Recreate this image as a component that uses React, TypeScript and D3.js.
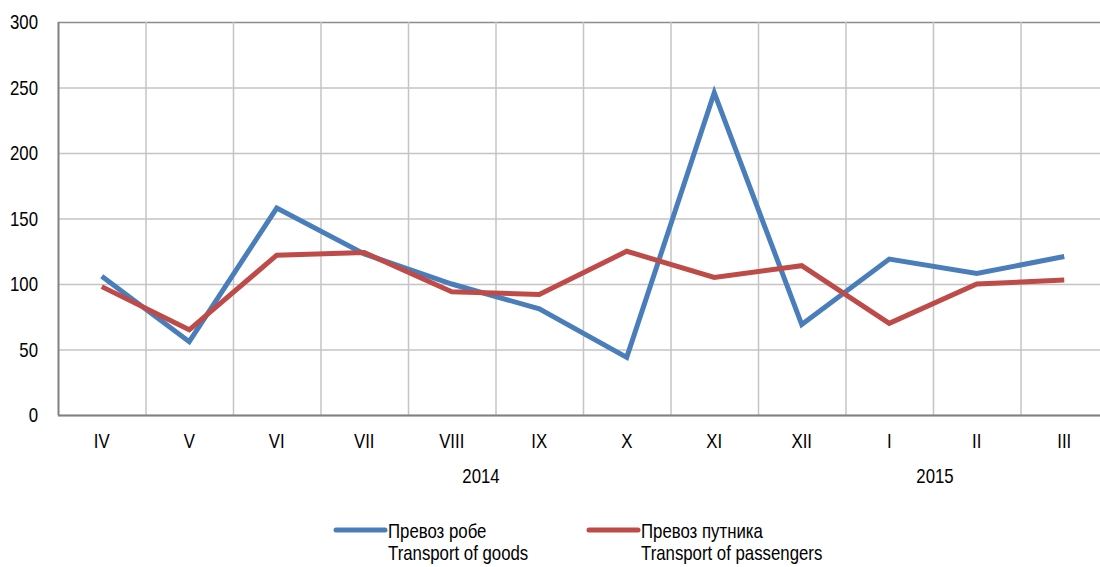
import React, { useEffect, useRef } from 'react'
import * as d3 from 'd3'

const months = ['IV', 'V', 'VI', 'VII', 'VIII', 'IX', 'X', 'XI', 'XII', 'I', 'II', 'III']
const goods = [106, 56, 158, 123, 100, 81, 44, 246, 69, 119, 108, 121]
const passengers = [98, 65, 122, 124, 94, 92, 125, 105, 114, 70, 100, 103]
const yTicks = [0, 50, 100, 150, 200, 250, 300]
const years = [{ label: '2014', at: 481 }, { label: '2015', at: 935 }]
const legendItems = [
  { sr: 'Превоз робе', en: 'Transport of goods', color: '#4a7ebb' },
  { sr: 'Превоз путника', en: 'Transport of passengers', color: '#be4b48' },
]

const font = '"Liberation Sans", Arial, sans-serif'
const squeeze = 0.84

export default function App() {
  const ref = useRef<SVGSVGElement | null>(null)

  useEffect(() => {
    const svg = d3.select(ref.current)
    svg.selectAll('*').remove()

    // narrow text (no Arial Narrow here, so squeeze Liberation Sans)
    const label = (parent: any, tx: number, ty: number, txt: string, anchor: string) =>
      parent.append('text')
        .attr('transform', `translate(${tx},${ty}) scale(${squeeze},1)`)
        .attr('text-anchor', anchor)
        .style('font-family', font)
        .style('font-size', '20px')
        .text(txt)

    const margin = { top: 22, left: 58 }
    const width = 1050
    const height = 393

    const x = d3.scaleBand<string>().domain(months).range([0, width])
    const y = d3.scaleLinear().domain([0, 300]).range([height, 0])

    const g = svg.append('g').attr('transform', `translate(${margin.left},${margin.top})`)

    // horizontal grid
    g.selectAll('.hgrid')
      .data(yTicks)
      .enter()
      .append('line')
      .attr('x1', 0)
      .attr('x2', width)
      .attr('y1', d => y(d) + 0.5)
      .attr('y2', d => y(d) + 0.5)
      .style('stroke', d => (d === 300 ? '#8c8c8c' : '#c4c4c4'))
      .style('stroke-width', 1.5)

    // vertical grid at band edges
    g.selectAll('.vgrid')
      .data(months.slice(1))
      .enter()
      .append('line')
      .attr('x1', d => (x(d) as number) + 0.5)
      .attr('x2', d => (x(d) as number) + 0.5)
      .attr('y1', 0)
      .attr('y2', height)
      .style('stroke', '#c4c4c4')
      .style('stroke-width', 1.5)

    // axes
    g.append('line').attr('x1', 0.5).attr('x2', 0.5).attr('y1', 0).attr('y2', height)
      .style('stroke', '#808080').style('stroke-width', 2)
    g.append('line').attr('x1', 0).attr('x2', width).attr('y1', height + 0.5).attr('y2', height + 0.5)
      .style('stroke', '#808080').style('stroke-width', 2)

    yTicks.forEach(t => label(g, -20, y(t) + 7, String(t), 'end'))
    months.forEach(m => label(g, (x(m) as number) + x.bandwidth() / 2, height + 33, m, 'middle'))
    years.forEach(yr => label(svg, yr.at, 483, yr.label, 'middle'))

    const line = d3.line<number>()
      .x((d, i) => (x(months[i]) as number) + x.bandwidth() / 2)
      .y(d => y(d))

    ;[
      { data: goods, color: legendItems[0].color },
      { data: passengers, color: legendItems[1].color },
    ].forEach(s => {
      g.append('path')
        .attr('d', line(s.data))
        .style('fill', 'none')
        .style('stroke', s.color)
        .style('stroke-width', 5)
        .style('stroke-linejoin', 'miter')
        .style('stroke-miterlimit', 10)
    })

    // legend
    legendItems.forEach((item, i) => {
      const lx = 336 + i * 253
      svg.append('line')
        .attr('x1', lx).attr('x2', lx + 49)
        .attr('y1', 530).attr('y2', 530)
        .style('stroke', item.color)
        .style('stroke-width', 5)
        .style('stroke-linecap', 'round')
      label(svg, lx + 52, 538, item.sr, 'start')
      label(svg, lx + 52, 560, item.en, 'start')
    })
  }, [])

  return (
    <svg ref={ref} width={1100} height={567}
      style={{ position: 'absolute', left: 0, top: 0, background: '#fff' }} />
  )
}
